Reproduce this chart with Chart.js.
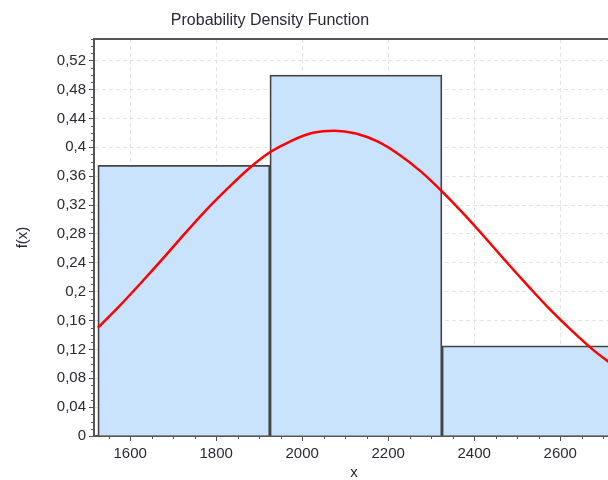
<!DOCTYPE html>
<html>
<head>
<meta charset="utf-8">
<script src="https://cdn.jsdelivr.net/npm/chart.js@4/dist/chart.umd.min.js"></script>
<style>
  html, body { margin: 0; padding: 0; background: #fff; overflow: hidden; }
</style>
</head>
<body>
<canvas id="chart" width="616" height="480"></canvas>
<script>
// Histogram bins
const binEdges = [1525, 1925, 2325, 2725];
const binDensity = [0.375, 0.5, 0.125];

// Fitted curve
const curveX = [1525, 1575, 1625, 1675, 1725, 1775, 1825, 1875, 1925, 1975, 2025, 2075, 2125,
  2175, 2225, 2275, 2325, 2375, 2425, 2475, 2525, 2575, 2625, 2675, 2725];
const curveY = [0.150, 0.180, 0.212, 0.245, 0.279, 0.312, 0.342, 0.370, 0.393, 0.409, 0.420, 0.423, 0.419,
  0.408, 0.390, 0.367, 0.339, 0.308, 0.275, 0.241, 0.208, 0.176, 0.147, 0.120, 0.097];

// Tick labels
const xTicks = [1600, 1800, 2000, 2200, 2400, 2600];
const yTicks = [0, 0.04, 0.08, 0.12, 0.16, 0.2, 0.24, 0.28, 0.32, 0.36, 0.4, 0.44, 0.48, 0.52];

// Axis ranges / minor ticks
const xMin = 1516, xMax = 2725, xMinorStep = 50;
const yMin = 0, yMax = 0.55, yMinorStep = 0.01;

const FONT = "'Liberation Sans', Arial, sans-serif";
const TEXT = "#2a2a33";
const AXIS = "#555";

const bars = binDensity.map((d, i) => ({ x: (binEdges[i] + binEdges[i + 1]) / 2, y: d }));
const curve = curveX.map((x, i) => ({ x: x, y: curveY[i] }));

// title + top border + minor ticks
const extras = {
  id: "extras",
  afterDraw(chart) {
    const ctx = chart.ctx;
    const a = chart.chartArea;
    const xs = chart.scales.x, ys = chart.scales.y;
    ctx.save();
    ctx.fillStyle = TEXT;
    ctx.font = "16px " + FONT;
    ctx.textAlign = "center";
    ctx.textBaseline = "middle";
    ctx.fillText("Probability Density Function", 270, 21);

    ctx.strokeStyle = AXIS;
    ctx.lineWidth = 2;
    ctx.beginPath();
    ctx.moveTo(a.left, a.top);
    ctx.lineTo(a.right, a.top);
    ctx.lineTo(a.right, a.bottom);
    ctx.stroke();

    ctx.lineWidth = 1;
    ctx.beginPath();
    for (let v = Math.ceil(xMin / xMinorStep) * xMinorStep; v <= xMax; v += xMinorStep) {
      if (xTicks.includes(v)) continue;
      const px = Math.round(xs.getPixelForValue(v)) + 0.5;
      ctx.moveTo(px, a.bottom);
      ctx.lineTo(px, a.bottom + 3);
    }
    for (let k = 1; k * yMinorStep <= yMax; k++) {
      if (k % 4 === 0) continue;
      const py = Math.round(ys.getPixelForValue(k * yMinorStep)) + 0.5;
      ctx.moveTo(a.left - 3, py);
      ctx.lineTo(a.left, py);
    }
    ctx.stroke();
    ctx.restore();
  }
};

new Chart(document.getElementById("chart"), {
  type: "bar",
  data: {
    datasets: [
      {
        type: "line",
        data: curve,
        xAxisID: "x",
        borderColor: "#ff0000",
        borderWidth: 2.5,
        pointRadius: 0,
        cubicInterpolationMode: "monotone",
        fill: false,
        order: 0
      },
      {
        type: "bar",
        data: bars,
        xAxisID: "xb",
        backgroundColor: "#cae3fc",
        borderColor: "#444",
        borderWidth: 1.8,
        borderSkipped: "start",
        barPercentage: 1,
        categoryPercentage: 1,
        grouped: false,
        order: 1
      }
    ]
  },
  options: {
    responsive: false,
    animation: false,
    layout: { padding: { top: 39, right: 2, left: 0, bottom: 0 } },
    plugins: {
      legend: { display: false },
      title: { display: false },
      tooltip: { enabled: false }
    },
    scales: {
      x: {
        type: "linear",
        min: xMin,
        max: xMax,
        offset: false,
        afterBuildTicks: s => { s.ticks = xTicks.map(v => ({ value: v })); },
        afterFit: s => { s.height = 44; },
        grid: { offset: false, color: "#e4e4e4", drawTicks: true, tickLength: 5, tickColor: AXIS },
        border: { display: true, color: AXIS, width: 2, dash: [4, 3] },
        ticks: {
          autoSkip: false,
          maxRotation: 0,
          padding: 4,
          color: TEXT,
          font: { family: FONT, size: 15 },
          callback: v => String(v)
        },
        title: {
          display: true,
          text: "x",
          color: TEXT,
          font: { family: FONT, size: 15, lineHeight: 1 },
          padding: { top: 0, bottom: 0 }
        }
      },
      xb: {
        type: "linear",
        display: false,
        min: xMin,
        max: xMax,
        offset: false,
        grid: { offset: false },
        afterBuildTicks: s => { s.ticks = [{ value: 2000 }]; }
      },
      y: {
        min: yMin,
        max: yMax,
        afterBuildTicks: s => { s.ticks = yTicks.map(v => ({ value: v })); },
        afterFit: s => { s.width = 94; },
        grid: { color: "#e4e4e4", drawTicks: true, tickLength: 5, tickColor: AXIS },
        border: { display: true, color: AXIS, width: 2, dash: [4, 3] },
        ticks: {
          autoSkip: false,
          padding: 3,
          color: TEXT,
          font: { family: FONT, size: 15 },
          callback: v => String(v).replace(".", ",")
        },
        title: {
          display: true,
          text: "f(x)",
          color: TEXT,
          font: { family: FONT, size: 15 },
          padding: { top: 14, bottom: 14 }
        }
      }
    }
  },
  plugins: [extras]
});
</script>
</body>
</html>
